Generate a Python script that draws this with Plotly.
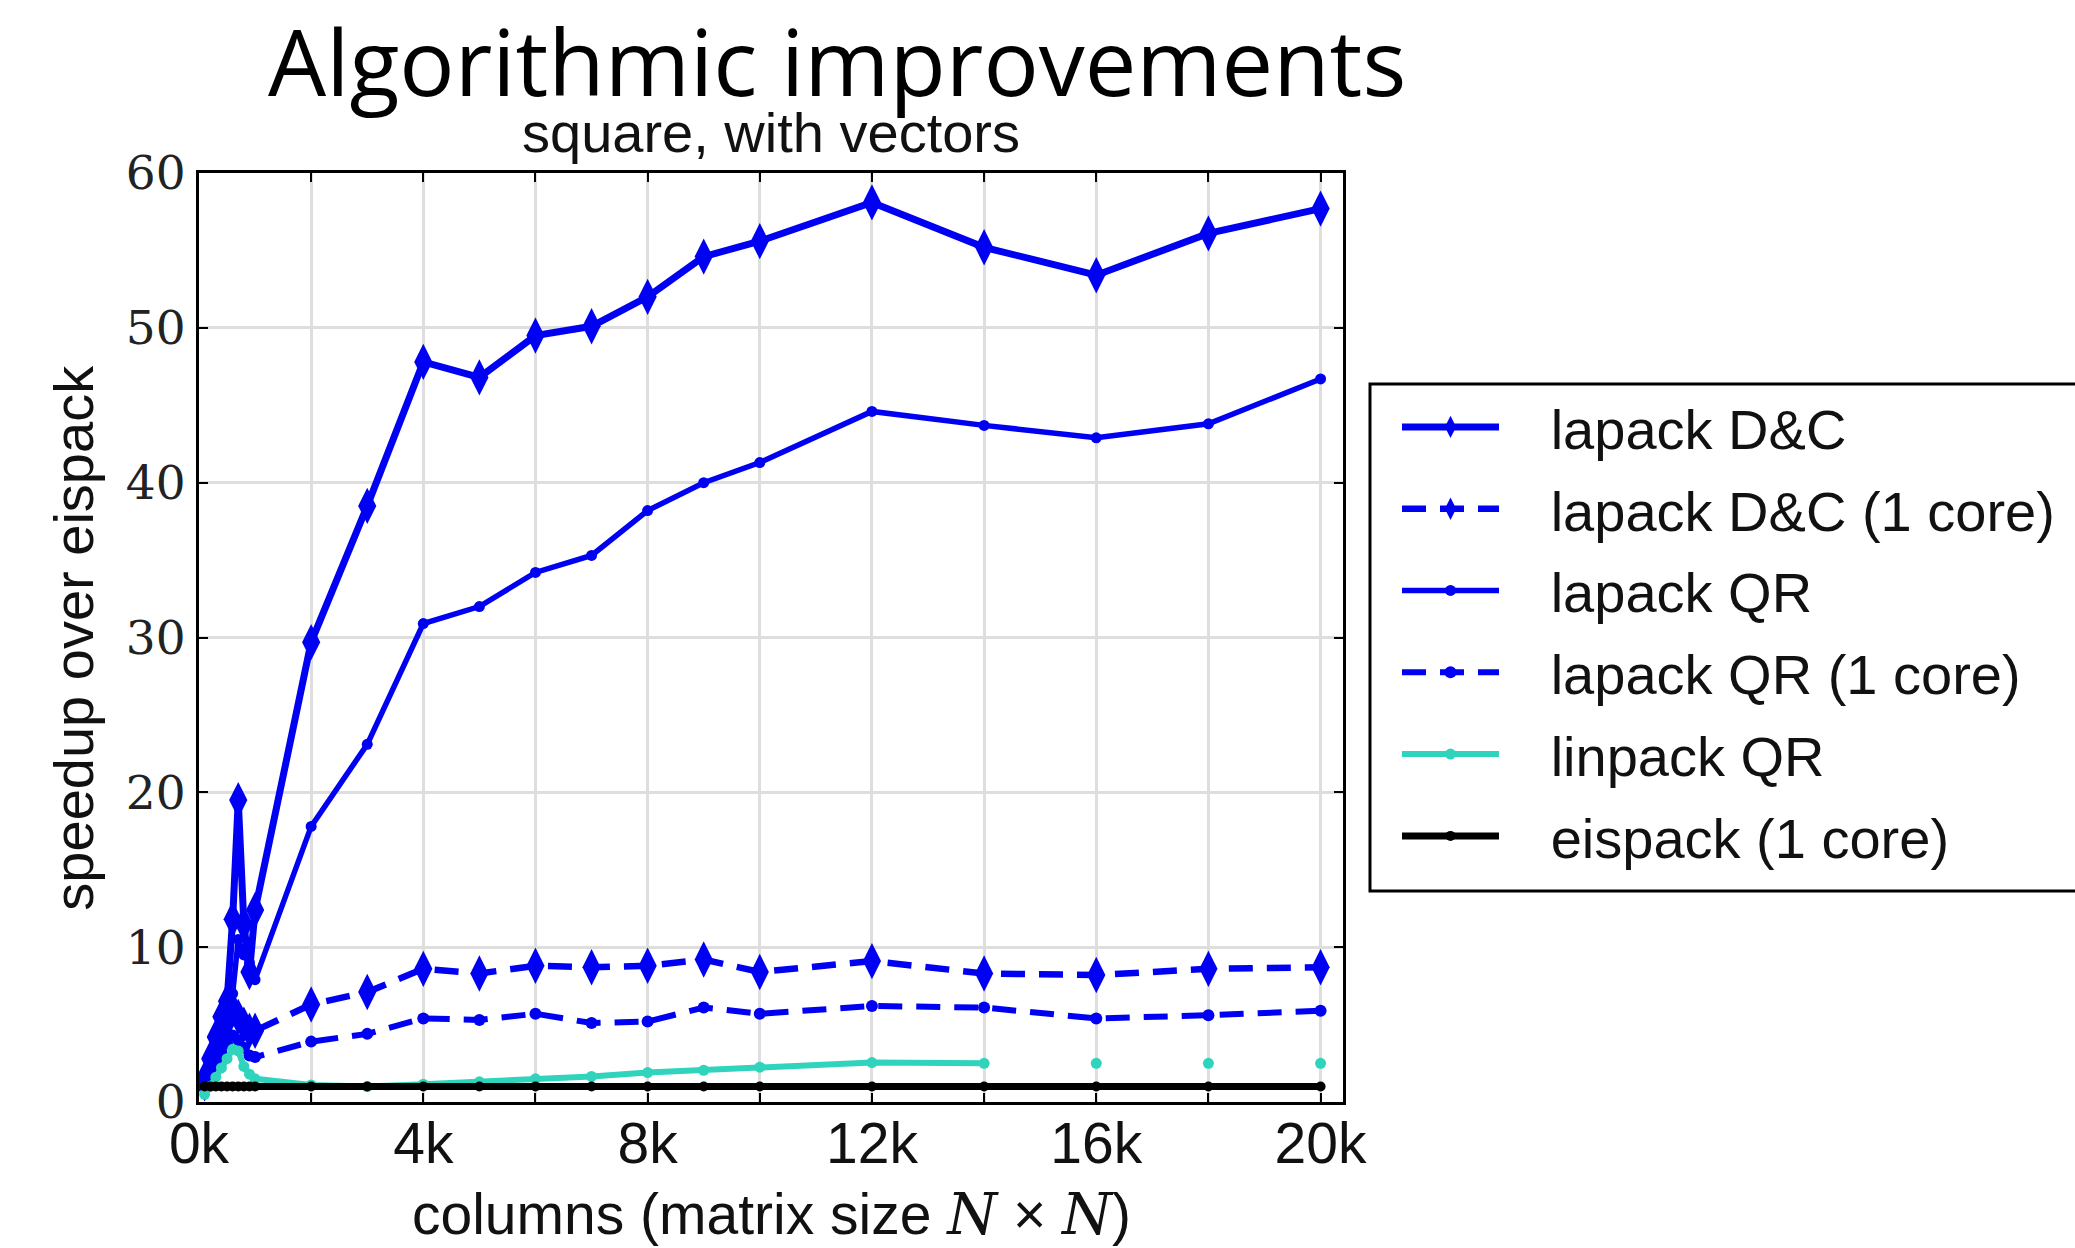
import plotly.graph_objects as go

# Matrix sizes N (columns of an N x N matrix)
sizes = [100, 200, 300, 400, 500, 600, 700, 800, 900, 1000,
         2000, 3000, 4000, 5000, 6000, 7000, 8000, 9000, 10000,
         12000, 14000, 16000, 18000, 20000]

# Speedup over eispack for each solver
lapack_dc = [1.5, 2.8, 4.2, 5.5, 6.5, 11.8, 19.5, 11.5, 8.4, 12.4,
             29.7, 38.5, 47.8, 46.8, 49.5, 50.1, 52.0, 54.6, 55.6,
             58.1, 55.2, 53.4, 56.1, 57.7]
lapack_dc_1core = [1.2, 2.0, 3.0, 4.0, 5.2, 6.0, 5.5, 5.0, 4.6, 4.6,
                   6.3, 7.1, 8.6, 8.3, 8.8, 8.7, 8.8, 9.2, 8.4,
                   9.1, 8.3, 8.2, 8.6, 8.7]
lapack_qr = [1.0, 1.8, 2.8, 4.0, 5.2, 7.0, 10.5, 9.5, 9.0, 7.9,
             17.8, 23.1, 30.9, 32.0, 34.2, 35.3, 38.2, 40.0, 41.3,
             44.6, 43.7, 42.9, 43.8, 46.7]
lapack_qr_1core = [1.0, 1.8, 2.5, 3.2, 3.8, 4.3, 4.0, 3.5, 3.0, 2.9,
                   3.9, 4.4, 5.4, 5.3, 5.7, 5.1, 5.2, 6.1, 5.7,
                   6.2, 6.1, 5.4, 5.6, 5.9]
eispack = [1.0, 1.0, 1.0, 1.0, 1.0, 1.0, 1.0, 1.0, 1.0, 1.0,
           1.0, 1.0, 1.0, 1.0, 1.0, 1.0, 1.0, 1.0, 1.0,
           1.0, 1.0, 1.0, 1.0, 1.0]

# linpack has missing runs between the largest sizes
linpack_sizes = [100, 200, 300, 400, 500, 600, 700, 800, 900, 1000,
                 2000, 3000, 4000, 5000, 6000, 7000, 8000, 9000, 10000,
                 12000, 14000, 15000, 16000, 17000, 18000, 19000, 20000]
linpack_qr = [0.5, 1.0, 1.6, 2.2, 2.8, 3.4, 3.3, 2.3, 1.8, 1.5,
              1.1, 1.0, 1.15, 1.3, 1.5, 1.65, 1.9, 2.05, 2.25,
              2.55, 2.5, None, 2.5, None, 2.5, None, 2.5]

series_names = ["lapack D&C", "lapack D&C (1 core)", "lapack QR",
                "lapack QR (1 core)", "linpack QR", "eispack (1 core)"]

x_tickvals = [0, 4000, 8000, 12000, 16000, 20000]
x_ticktext = ["0k", "4k", "8k", "12k", "16k", "20k"]
y_tickvals = [0, 10, 20, 30, 40, 50, 60]

BLUE = "#0000f2"
CYAN = "#30d4bc"
SANS = "Liberation Sans"
SERIF = "DejaVu Serif"
DASH = "24px,14px"
GAP = "\u00a0\u00a0\u00a0"   # space between legend sample and label

fig = go.Figure()

styles = [
    (sizes, lapack_dc, BLUE, "solid", 7, "diamond-tall", 26),
    (sizes, lapack_dc_1core, BLUE, DASH, 6.5, "diamond-tall", 26),
    (sizes, lapack_qr, BLUE, "solid", 5.5, "circle", 11),
    (sizes, lapack_qr_1core, BLUE, DASH, 6, "circle", 12),
    (linpack_sizes, linpack_qr, CYAN, "solid", 6, "circle", 11),
    (sizes, eispack, "black", "solid", 7, "circle", 10),
]

for i, (name, (xs, ys, color, dash, lw, sym, msize)) in enumerate(zip(series_names, styles)):
    fig.add_trace(go.Scatter(
        x=xs, y=ys, name=GAP + name, mode="lines+markers",
        line=dict(color=color, width=lw, dash=dash),
        marker=dict(symbol=sym, size=msize, color=color,
                    line=dict(width=0)),
        connectgaps=False,
        legendgroup="g%d" % i,
    ))

axis_common = dict(
    showline=True, linecolor="black", linewidth=3, mirror="allticks",
    ticks="inside", ticklen=9, tickwidth=2, tickcolor="black",
    showgrid=True, gridcolor="#dedede", gridwidth=3, zeroline=False,
)

fig.update_xaxes(
    range=[0, 20400], tickmode="array", tickvals=x_tickvals, ticktext=x_ticktext,
    tickfont=dict(family=SANS, size=57, color="#111111"),
    ticklabelstandoff=-10,
    minor=dict(tickmode="linear", tick0=0, dtick=2000, ticks="inside",
               ticklen=9, tickwidth=2, tickcolor="black",
               showgrid=True, gridcolor="#dedede", gridwidth=3),
    **axis_common,
)
fig.update_yaxes(
    range=[0, 60], tickmode="array", tickvals=y_tickvals,
    tickfont=dict(family=SERIF, size=47, color="#222222"),
    ticklabelstandoff=1,
    **axis_common,
)

# legend frame (paper coordinates), the legend itself sits inside it
fig.add_shape(type="rect", xref="paper", yref="paper",
              x0=1.0236, x1=1.66, y0=0.2271, y1=0.7729,
              line=dict(color="black", width=3), fillcolor="white", layer="below")

fig.update_layout(
    width=2075, height=1248, autosize=False,
    margin=dict(l=199, r=732, t=173, b=146, pad=0),
    paper_bgcolor="white", plot_bgcolor="white",
    showlegend=True,
    legend=dict(
        x=1.0472, y=0.7729, xanchor="left", yanchor="top",
        borderwidth=0, bgcolor="rgba(0,0,0,0)",
        font=dict(family=SANS, size=56, color="#111111"),
        itemwidth=97, tracegroupgap=6, traceorder="grouped",
    ),
    annotations=[
        dict(text="Algorithmic improvements", x=0.5577, y=1.1215,
             xref="paper", yref="paper", xanchor="center", yanchor="middle",
             showarrow=False, font=dict(family="Open Sans", size=92, color="black")),
        dict(text="square, with vectors", x=0.5, y=1.0, yshift=7,
             xref="paper", yref="paper", xanchor="center", yanchor="bottom",
             showarrow=False, font=dict(family=SANS, size=56, color="#111111")),
        dict(text="speedup over eispack", x=-0.110, y=0.5, textangle=-90,
             xref="paper", yref="paper", xanchor="center", yanchor="middle",
             showarrow=False, font=dict(family=SANS, size=56, color="#111111")),
        dict(text=("columns (matrix size "
                   "<span style='font-family:DejaVu Serif;font-style:italic'>N</span>"
                   " × "
                   "<span style='font-family:DejaVu Serif;font-style:italic'>N</span>)"),
             x=0.5, y=-0.121,
             xref="paper", yref="paper", xanchor="center", yanchor="middle",
             showarrow=False, font=dict(family=SANS, size=57, color="#111111")),
    ],
)

fig.write_html("out.html")
